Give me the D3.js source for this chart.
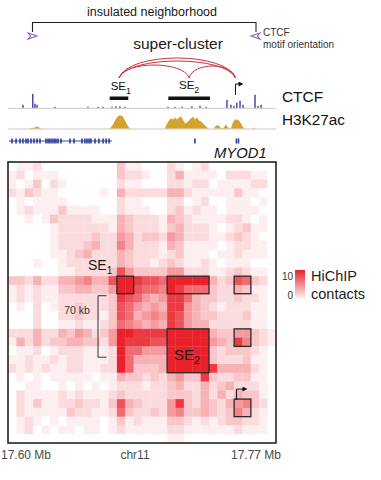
<!DOCTYPE html>
<html><head><meta charset="utf-8">
<script src="https://cdn.jsdelivr.net/npm/d3@7"></script>
<style>body{margin:0;background:#fff;} svg{display:block;font-family:"Liberation Sans",Arial,Helvetica,sans-serif;}</style>
</head><body>
<svg id="c" width="381" height="480"></svg>
<script>
// ---------- DATA ----------
// HiChIP contacts, 32 x 32 bins, upper triangle (row r holds cols r..31), 'a' = 10
const contactRows = [
"01120000000003110002101200000000",
"2011100000003221002411110222110",
"130210000002110002212201111220",
"21100000104222224421111131100",
"1110000002110002201200111010",
"131111002111002312110111100",
"22221114322214321111221010",
"2222214322213422210123110",
"223225423325422211232100",
"34226422214311110122110",
"2224322212311101121110",
"224322123211210111000",
"38533335522211232110",
"aa9887aaaaa42387320",
"a8776a977732243110",
"75459974332232210",
"4549954321222110",
"659854332223110",
"49854422222110",
"aaaaa43355321",
"aaaa54396321",
"aaa32333210",
"aa32223110",
"a94444210",
"32233110",
"3422210",
"243310",
"56320",
"4210",
"210",
"10",
"0"
];
const nBins = 32;
// highlighted boxes: [rowStart,rowEnd,colStart,colEnd] (bins)
const boxRows0 = [13,13,13,19,19,27];
const boxRows1 = [14,14,14,23,20,28];
const boxCols0 = [13,19,27,19,27,27];
const boxCols1 = [14,23,28,23,28,28];

// genomic window: kb offset from 17.60 Mb
const windowKb = [0, 170];
const axisLabels = ["17.60 Mb", "chr11", "17.77 Mb"];

// CTCF ChIP-seq peaks
const ctcfKb  = [9.5,15.7,17.1,18.4,29.8,50.7,57.1,60.3,66.0,68.5,71.0,74.2,101.5,105.9,110.4,116.7,121.8,125.6,138.9,141.4,143.3,145.1,147.2,149.1,156.7,158.6,160.5];
const ctcfVal = [3,14,4,3,1,1,1,1,1,1.5,1.5,1,1,1,1,1.5,2,1,8,3,2,5,7,3,13,2,3];

// H3K27ac profile
const h3kKb  = [0,13,17.1,18.4,19.7,21,64,65.3,66.6,67.9,69.1,70.4,71.7,72.9,74.2,75.5,76.7,78,99.6,100.9,102.1,103.4,104.7,105.9,107.2,108.5,109.7,111,112.3,113.5,114.8,116.1,117.3,118.6,119.9,121.2,122.4,123.7,125,126.2,127.5,130.7,131.9,133.8,135.1,137,138.3,139.5,141.4,142.7,144,145.2,146.5,147.8,149.1,150.3,155,156,157,170];
const h3kVal = [0,0,1,2,1,0,0,1,4,8,11,13,13,12,8,4,1,0,0,5,8,10,9,11,9,11,12,9,5,6,8,10,12,9,11,8,7,5,3,1,0,0,3,3,0,1,4,1,0,6,9,9,8,5,1,0,0,1,0,0];

// genes
const geneSpanKb = [0.6, 66.0];
const exonKb = [2.5,5.1,7.6,9.5,11.4,12.7,14.6,16.5,18.4,20.3,24.1,25.4,26.6,27.9,29.2,30.4,31.7,33.6,39.3,41.9,46.9,48.8,50.1,51.4,52.6,55.2,57.7,60.3,62.2,64.1,118.6,144.9,146.2];

// super-enhancers and promoter
const se1Kb = [64.5, 76.3];
const se2Kb = [101.7, 128.1];
const tssKb = 144.3;
// loops: from, to, relative height
const loopFrom = [70.4, 114.9, 70.4, 70.4];
const loopTo   = [114.9, 144.3, 144.3, 144.3];
const loopH    = [13, 12, 20, 17];

// ---------- DRAW ----------
const svg = d3.select("#c");
const L = 8, R = 276, T = 162, B = 443;
const gx = d3.scaleLinear().domain(windowKb).range([L, R]);
const bx = d3.scaleBand().domain(d3.range(nBins)).range([L, R]);
const by = d3.scaleBand().domain(d3.range(nBins)).range([T, B]);
const red = "#e8212b";
const col = d3.scalePow().exponent(1.15).domain([0, 10]).range(["#ffffff", red]).interpolate(d3.interpolateRgb);

const val = (r, c) => {
  const a = Math.min(r, c), b = Math.max(r, c);
  const ch = contactRows[a][b - a];
  return ch === "a" ? 10 : +ch;
};
const cells = [];
for (let r = 0; r < nBins; r++) for (let c = 0; c < nBins; c++) cells.push({r, c, v: val(r, c)});

svg.append("g").selectAll("rect").data(cells).join("rect")
  .attr("x", d => bx(d.c)).attr("y", d => by(d.r))
  .attr("width", bx.bandwidth() + 0.3).attr("height", by.bandwidth() + 0.3)
  .attr("fill", d => col(d.v));

// boxes
svg.append("g").selectAll("rect").data(d3.range(boxRows0.length)).join("rect")
  .attr("x", i => bx(boxCols0[i])).attr("y", i => by(boxRows0[i]))
  .attr("width", i => bx(boxCols1[i]) + bx.bandwidth() - bx(boxCols0[i]))
  .attr("height", i => by(boxRows1[i]) + by.bandwidth() - by(boxRows0[i]))
  .attr("fill", "none").attr("stroke", "#2a2a2a").attr("stroke-width", 1.3);

// frame
svg.append("rect").attr("x", L).attr("y", T).attr("width", R - L).attr("height", B - T)
  .attr("fill", "none").attr("stroke", "#222").attr("stroke-width", 1.6);

// heatmap annotations
const se1t = svg.append("text").attr("x", 88).attr("y", 270).attr("font-size", 14).attr("fill", "#1a1a1a");
se1t.append("tspan").text("SE");
se1t.append("tspan").attr("font-size", 10).attr("dy", 4).text("1");
const se2t = svg.append("text").attr("x", 174).attr("y", 360).attr("font-size", 15).attr("fill", "#1a1a1a");
se2t.append("tspan").text("SE");
se2t.append("tspan").attr("font-size", 11).attr("dy", 4).text("2");

svg.append("path").attr("d", `M106.5,${by(15)+2}H98V${by(22)+2}H106.5`)
  .attr("fill", "none").attr("stroke", "#333").attr("stroke-width", 1);
svg.append("text").attr("x", 77).attr("y", 314).attr("text-anchor", "middle").attr("font-size", 10.5).attr("fill", "#333").text("70 kb");

svg.append("defs").html('<marker id="ah" viewBox="0 0 10 10" refX="2" refY="5" markerWidth="5" markerHeight="5" orient="auto"><path d="M0,0L10,5L0,10z" fill="#111"/></marker>');
const hx = gx(tssKb) + 1;
svg.append("path").attr("d", `M${hx},${by(27)+1}V${by(27)-10}H${hx+7}`)
  .attr("fill", "none").attr("stroke", "#111").attr("stroke-width", 1).attr("marker-end", "url(#ah)");

// axis labels
svg.append("text").attr("x", 1).attr("y", 459).attr("font-size", 12).attr("fill", "#4a4a4a").text(axisLabels[0]);
svg.append("text").attr("x", 135).attr("y", 459).attr("text-anchor", "middle").attr("font-size", 12).attr("fill", "#4a4a4a").text(axisLabels[1]);
svg.append("text").attr("x", 281).attr("y", 459).attr("text-anchor", "end").attr("font-size", 12).attr("fill", "#4a4a4a").text(axisLabels[2]);

// colour legend
const grad = svg.select("defs").append("linearGradient").attr("id", "lg").attr("x1", 0).attr("y1", 0).attr("x2", 0).attr("y2", 1);
grad.append("stop").attr("offset", "0%").attr("stop-color", col(10));
grad.append("stop").attr("offset", "100%").attr("stop-color", col(0.6));
svg.append("rect").attr("x", 295).attr("y", 270).attr("width", 10).attr("height", 29).attr("fill", "url(#lg)");
svg.append("text").attr("x", 293).attr("y", 280).attr("text-anchor", "end").attr("font-size", 10).attr("fill", "#333").text("10");
svg.append("text").attr("x", 293).attr("y", 299).attr("text-anchor", "end").attr("font-size", 10).attr("fill", "#333").text("0");
svg.append("text").attr("x", 311).attr("y", 281).attr("font-size", 14.5).attr("fill", "#222").text("HiChIP");
svg.append("text").attr("x", 311).attr("y", 299).attr("font-size", 14.5).attr("fill", "#222").text("contacts");

// ---------- top tracks ----------
// insulated neighborhood bracket
svg.append("text").attr("x", 152).attr("y", 15.5).attr("text-anchor", "middle").attr("font-size", 12.5).attr("fill", "#1a1a1a").text("insulated neighborhood");
svg.append("path").attr("d", "M32.5,32V22.5H256V32").attr("fill", "none").attr("stroke", "#222").attr("stroke-width", 1.1);
const purple = "#8a5cc6";
svg.append("path").attr("d", "M28,33L37,36L28,39L30.5,36Z").attr("fill", "none").attr("stroke", purple).attr("stroke-width", 1.1);
svg.append("path").attr("d", "M260,33L251,36L260,39L257.5,36Z").attr("fill", "none").attr("stroke", purple).attr("stroke-width", 1.1);
svg.append("text").attr("x", 263).attr("y", 35.5).attr("font-size", 10).attr("fill", "#333").text("CTCF");
svg.append("text").attr("x", 263).attr("y", 47.5).attr("font-size", 10).attr("fill", "#333").text("motif orientation");

svg.append("text").attr("x", 178).attr("y", 49).attr("text-anchor", "middle").attr("font-size", 15.5).attr("fill", "#1a1a1a").text("super-cluster");

// loops
const loopY = 78;
svg.append("g").selectAll("path").data(d3.range(loopFrom.length)).join("path")
  .attr("d", i => {
    const x1 = gx(loopFrom[i]), x2 = gx(loopTo[i]), w = x2 - x1, k = loopH[i] * 4 / 3;
    return `M${x1},${loopY}C${x1 + w * 0.08},${loopY - k} ${x2 - w * 0.08},${loopY - k} ${x2},${loopY}`;
  })
  .attr("fill", "none").attr("stroke", "#c8323d").attr("stroke-width", 1);

// SE labels & bars
const lab1 = svg.append("text").attr("x", gx(se1Kb[0]) + 1).attr("y", 89.5).attr("font-size", 11.5).attr("fill", "#111");
lab1.append("tspan").text("SE"); lab1.append("tspan").attr("font-size", 9).attr("dy", 4).text("1");
const lab2 = svg.append("text").attr("x", 179).attr("y", 89).attr("font-size", 11.5).attr("fill", "#111");
lab2.append("tspan").text("SE"); lab2.append("tspan").attr("font-size", 9).attr("dy", 4).text("2");
[se1Kb, se2Kb].forEach(s => svg.append("rect").attr("x", gx(s[0])).attr("y", 96.5).attr("width", gx(s[1]) - gx(s[0])).attr("height", 3.5).attr("fill", "#111"));
const tx = gx(tssKb);
svg.append("path").attr("d", `M${tx},95V84H${tx + 4}`).attr("fill", "none").attr("stroke", "#111").attr("stroke-width", 1).attr("marker-end", "url(#ah)");

// CTCF track
const ctcfBase = 107.8;
const cy = d3.scaleLinear().domain([0, 14]).range([0, 14]);
svg.append("line").attr("x1", L).attr("x2", R).attr("y1", ctcfBase + 0.5).attr("y2", ctcfBase + 0.5).attr("stroke", "#c8c8c8").attr("stroke-width", 1);
svg.append("g").selectAll("rect").data(d3.range(ctcfKb.length)).join("rect")
  .attr("x", i => gx(ctcfKb[i]) - 0.7).attr("width", 1.4)
  .attr("y", i => ctcfBase - cy(ctcfVal[i])).attr("height", i => cy(ctcfVal[i]))
  .attr("fill", "#3d3da3");
svg.append("text").attr("x", 282).attr("y", 101.5).attr("font-size", 15.4).attr("fill", "#111").text("CTCF");

// H3K27ac track
const hBase = 128.5;
const hy = d3.scaleLinear().domain([0, 14]).range([hBase, hBase - 14]);
svg.append("line").attr("x1", L).attr("x2", R).attr("y1", hBase + 0.5).attr("y2", hBase + 0.5).attr("stroke", "#c8c8c8").attr("stroke-width", 1);
svg.append("path").datum(d3.range(h3kKb.length))
  .attr("d", d3.area().x(i => gx(h3kKb[i])).y0(hBase).y1(i => hy(h3kVal[i])))
  .attr("fill", "#d5a22c");
svg.append("text").attr("x", 282).attr("y", 125).attr("font-size", 15.3).attr("fill", "#111").text("H3K27ac");

// gene track
const gy = 141;
svg.append("line").attr("x1", gx(geneSpanKb[0])).attr("x2", gx(geneSpanKb[1])).attr("y1", gy).attr("y2", gy).attr("stroke", "#3347a8").attr("stroke-width", 1);
svg.append("g").selectAll("rect").data(exonKb).join("rect")
  .attr("x", d => gx(d) - 0.8).attr("width", 1.6).attr("y", gy - 2.5).attr("height", 5).attr("fill", "#2c3f9e");
svg.append("text").attr("x", 214).attr("y", 158).attr("font-size", 14.8).attr("font-style", "italic").attr("fill", "#111").text("MYOD1");
</script>
</body></html>
